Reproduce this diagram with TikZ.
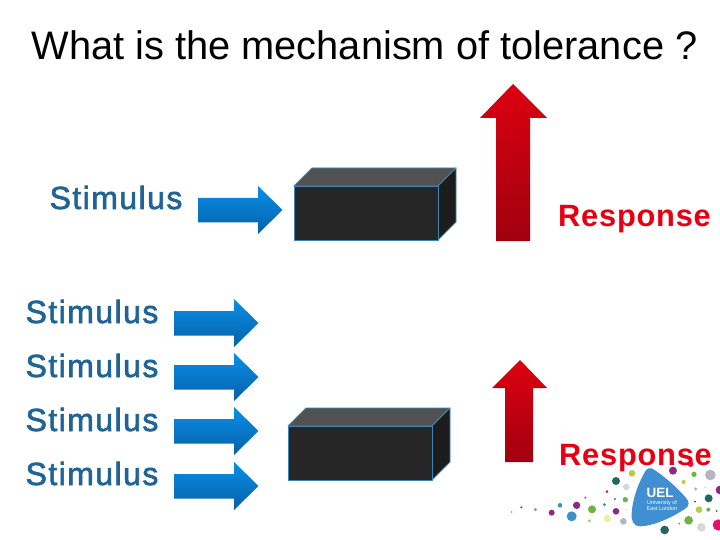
\documentclass[tikz,border=0pt]{standalone}
\usepackage{fontspec}
\setmainfont{Liberation Sans}
\definecolor{stimc}{HTML}{1F6494}
\definecolor{respc}{HTML}{E60012}
\definecolor{edgec}{HTML}{3A86B8}
\definecolor{uelb}{HTML}{3F8FD2}
\definecolor{cpur}{HTML}{8A2A85}
\definecolor{cblu}{HTML}{3F8FCB}
\definecolor{cgrn}{HTML}{6DB33F}
\definecolor{clim}{HTML}{BCC84A}
\definecolor{cyel}{HTML}{EFEFA0}
\definecolor{cgry}{HTML}{B5B5BD}
\definecolor{clgr}{HTML}{D8D8DC}
\definecolor{cted}{HTML}{23675F}
\definecolor{cpnk}{HTML}{E0126E}
\definecolor{ccrm}{HTML}{C2185B}
\definecolor{cnav}{HTML}{2C4A6E}
\definecolor{arrowtop}{HTML}{0A8FE8}
\definecolor{arrowbot}{HTML}{0560A8}
\definecolor{redtop}{HTML}{DC0010}
\definecolor{redbot}{HTML}{A00010}
\definecolor{boxfront}{HTML}{262626}
\definecolor{boxtop}{HTML}{515151}
\definecolor{boxside}{HTML}{1C1C1C}
\newfontfamily\stimfont[LetterSpace=4.5,FakeBold=2]{Liberation Sans}
\newfontfamily\respfont[LetterSpace=2.5]{Liberation Sans Bold}
\tikzset{
  titletext/.style={font=\fontsize{39.8}{44}\selectfont,text=black,inner sep=0pt,anchor=base},
  stimtext/.style={font=\stimfont\fontsize{32}{36}\selectfont,text=stimc,inner sep=0pt,anchor=base},
  resptext/.style={font=\respfont\fontsize{30.8}{36}\selectfont,text=respc,inner sep=0pt,anchor=base},
  bluearrow/.style={top color=arrowtop,bottom color=arrowbot,draw=none},
  redarrow/.style={top color=redtop,bottom color=redbot,draw=none},
  frontface/.style={fill=boxfront,draw=edgec,line width=0.9pt,line join=round},
  topface/.style={fill=boxtop,draw=edgec,line width=0.9pt,line join=round},
  sideface/.style={fill=boxside,draw=edgec,line width=0.9pt,line join=round},
}
\newcommand{\rarrow}[2]{% left x, centre y
  \shade[bluearrow] (#1,#2-12) -- (#1+60,#2-12) -- (#1+60,#2-24) -- (#1+84.5,#2) -- (#1+60,#2+24) -- (#1+60,#2+12.5) -- (#1,#2+12.5) -- cycle;}
\newcommand{\cuboid}[2]{% front-left x, front-top y
  \draw[topface] (#1,#2) -- (#1+18,#2-18) -- (#1+162,#2-18) -- (#1+144,#2) -- cycle;
  \draw[sideface] (#1+144,#2) -- (#1+162,#2-18) -- (#1+162,#2+36) -- (#1+144,#2+54) -- cycle;
  \draw[frontface] (#1,#2) rectangle (#1+144,#2+54);}
\newcommand{\dotz}[4]{\fill[#4] (#1,#2) circle [radius=#3];}
\begin{document}
\begin{tikzpicture}[x=1pt,y=-1pt]
\useasboundingbox (0,0) rectangle (720,540);
\fill[white] (0,0) rectangle (720,540);

% logo (coordinates as read from a 3x crop whose corner is at 500,440)
\begin{scope}[shift={(500,440)},x=0.3333pt,y=-0.3333pt]
\dotz{35}{216}{3}{cgrn!50!cgry}
\dotz{64}{202}{3.5}{ccrm}
\dotz{106}{209}{5}{cgrn}
\dotz{155}{218}{9}{cpur}
\dotz{180}{196}{7}{cblu}
\dotz{230}{196}{11}{cpur}
\dotz{215}{229}{15}{cblu}
\dotz{256}{173}{4}{cgrn}
\dotz{276}{208}{12}{cgrn}
\dotz{268}{243}{5}{clim}
\dotz{313}{194}{5}{cblu}
\dotz{348}{214}{10}{cpur}
\dotz{322}{236}{11}{cyel}
\dotz{370}{244}{10}{cgry}
\dotz{378}{210}{2}{clim}
\dotz{345}{177}{3}{cnav}
\dotz{321}{155}{4.5}{ccrm}
\dotz{376}{179}{8}{cgrn}
\dotz{348}{123}{12}{cted}
\dotz{379}{141}{10}{clgr}
\dotz{396}{100}{10}{clim}
\dotz{519}{92}{12}{cpur}
\dotz{572}{72}{9}{cpnk}
\dotz{582}{103}{8}{cgrn}
\dotz{631}{105}{16}{cgry}
\dotz{551}{126}{6}{clim}
\dotz{587}{147}{5}{cgry}
\dotz{615}{142}{3}{clgr}
\dotz{660}{150}{13}{cpur}
\dotz{626}{175}{12}{cted}
\dotz{585}{185}{3}{cnav}
\dotz{597}{209}{10}{clim}
\dotz{625}{209}{6}{cgrn}
\dotz{650}{213}{3}{cted}
\dotz{566}{241}{13}{cgrn}
\dotz{538}{251}{3}{cblu}
\dotz{604}{262}{13}{clgr}
\dotz{655}{255}{17}{cpnk}
\dotz{494}{270}{13}{cted}
\fill[uelb] (455,85) .. controls (490,105) and (540,150) .. (563,180) .. controls (572,195) and (560,205) .. (545,213) .. controls (510,235) and (460,258) .. (420,259) .. controls (400,260) and (393,240) .. (395,220) .. controls (398,170) and (420,120) .. (437,92) .. controls (441,85) and (448,82) .. (455,85) -- cycle;
\end{scope}
\node[inner sep=0pt,text=white,font=\bfseries\fontsize{13.5}{13}\selectfont] (uel) at (660,493) {UEL};
\node[inner sep=0pt,text=white,align=center,font=\fontsize{5.4}{6.2}\selectfont] (ueltext) at (662,505.5) {University of\\East London};

% title
\node[titletext] (title) at (364.5,60) {What is the mechanism of tolerance ?};

% upper row
\node[stimtext] (s0) at (116,209) {Stimulus};
\rarrow{198}{210}
\cuboid{294}{186}
\shade[redarrow] (496,241) -- (496,118) -- (480,118) -- (513,84) -- (547,118) -- (530,118) -- (530,241) -- cycle;
\node[resptext] (r0) at (634.5,226) {Response};

% lower rows
\node[stimtext] (s1) at (92,323) {Stimulus};
\node[stimtext] (s2) at (92,377) {Stimulus};
\node[stimtext] (s3) at (92,431) {Stimulus};
\node[stimtext] (s4) at (92,485) {Stimulus};
\rarrow{174}{323}
\rarrow{174}{377}
\rarrow{174}{431}
\rarrow{174}{486}
\cuboid{288}{426}
\shade[redarrow] (505,462) -- (505,388) -- (492,388) -- (520,360) -- (547,388) -- (533,388) -- (533,462) -- cycle;
\node[resptext] (r1) at (635.5,465) {Response};
\end{tikzpicture}
\end{document}
